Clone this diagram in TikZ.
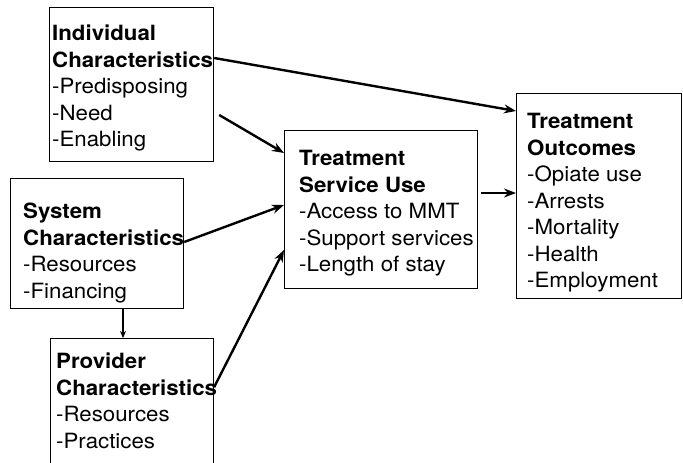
\documentclass[tikz,border=0pt]{standalone}
\usepackage{fontspec}
\setmainfont{TeX Gyre Heros}[FakeStretch=1.06]
\usetikzlibrary{arrows.meta}

\tikzset{
  caja/.style={draw, line width=1.2pt, minimum width=#1, anchor=north west, inner sep=0pt},
  texto/.style={anchor=north west, inner sep=0pt, align=left,
    font=\fontsize{21}{26.5}\selectfont},
  flecha/.style={line width=2.4pt, -{Stealth[length=12pt,width=9pt]}}
}

\begin{document}
\begin{tikzpicture}[x=1pt, y=-1pt]

    % Marco
    \clip (0, 0) rectangle (683, 463);
    \fill[white] (0, 0) rectangle (683, 463);

    % Cajas
    \node[caja=164pt, minimum height=154pt] (ind) at (49, 7) {};
    \node[caja=173pt, minimum height=130pt] (sys) at (10, 178) {};
    \node[caja=163pt, minimum height=140pt] (prov) at (50, 338) {};
    \node[caja=193pt, minimum height=158pt] (tsu) at (284, 130) {};
    \node[caja=165pt, minimum height=205pt] (out) at (516, 93) {};

    % Textos
    \node[texto] (ind-t) at (52, 25) {\textbf{Individual}\\ \textbf{Characteristics}\\ -Predisposing\\ -Need\\ -Enabling};
    \node[texto] (sys-t) at (23, 203) {\textbf{System}\\ \textbf{Characteristics}\\ -Resources\\ -Financing};
    \node[texto] (prov-t) at (56, 353) {\textbf{Provider}\\ \textbf{Characteristics}\\ -Resources\\ -Practices};
    \node[texto] (tsu-t) at (299, 150) {\textbf{Treatment}\\ \textbf{Service Use}\\ -Access to MMT\\ -Support services\\ -Length of stay};
    \node[texto] (out-t) at (527, 113) {\textbf{Treatment}\\ \textbf{Outcomes}\\ -Opiate use\\ -Arrests\\ -Mortality\\ -Health\\ -Employment};

    % Flechas
    \draw[flecha] ([yshift=-51pt]ind.north east) -- ([yshift=-18pt]out.north west);
    \draw[flecha] ([shift={(5pt,-108pt)}]ind.north east) -- ([yshift=-23pt]tsu.north west);
    \draw[flecha] ([yshift=-64pt]sys.north east) -- ([yshift=-75pt]tsu.north west);
    \draw[flecha] ([yshift=-49pt]prov.north east) -- ([yshift=-120pt]tsu.north west);
    \draw[flecha] ([shift={(3pt,-63pt)}]tsu.north east) -- ([yshift=-100pt]out.north west);
    \draw[line width=1.2pt, -{Stealth[length=7pt,width=6pt]}] ([xshift=113pt]sys.south west) -- ([xshift=73pt]prov.north west);

  \end{tikzpicture}
\end{document}
